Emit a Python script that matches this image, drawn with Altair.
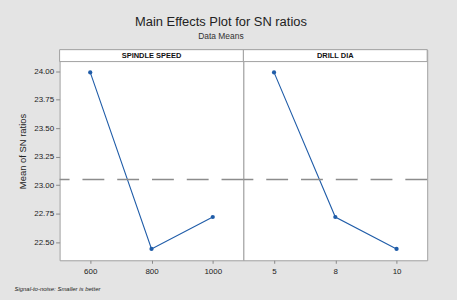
import altair as alt
import pandas as pd

# ---- data ----
factors = ["SPINDLE SPEED", "DRILL DIA"]
spindle_levels = ["600", "800", "1000"]
spindle_sn = [23.99, 22.44, 22.72]
drill_levels = ["5", "8", "10"]
drill_sn = [23.99, 22.72, 22.44]
overall_mean = [23.05]
y_ticks = [22.50, 22.75, 23.00, 23.25, 23.50, 23.75, 24.00]
y_domain = [22.34, 24.085]

title_text = "Main Effects Plot for SN ratios"
subtitle_text = "Data Means"
y_title = "Mean of SN ratios"
footer = "Signal-to-noise: Smaller is better"

BLUE = "#1f5ca8"
BORDER = "#a0a0a0"
FONT = "Liberation Sans"
W, H, HH = 185, 200, 12
TOTAL_H = H + HH

mean_df = pd.DataFrame({"mean": overall_mean})


def panel(name, levels, values, left):
    df = pd.DataFrame({"level": levels, "sn": values})

    if left:
        yaxis = alt.Axis(
            values=y_ticks, format=".2f", title=y_title, grid=False, domain=False,
            tickSize=4, tickColor="#888", labelFontSize=8, labelColor="#222",
            labelFont=FONT, labelPadding=2, titleFont=FONT, titleFontSize=9.5,
            titleFontWeight="normal", titleColor="#222", titleX=-37, titleY=HH + 90,
            titleAlign="center", titleBaseline="middle", titleAngle=270,
        )
        xtitle = footer
    else:
        yaxis = None
        xtitle = None

    xaxis_kwargs = dict(
        labelAngle=0, grid=False, domain=False, tickSize=3, tickColor="#888",
        labelFontSize=8, labelColor="#222", labelFont=FONT, labelPadding=4,
    )
    if xtitle:
        xaxis_kwargs.update(
            title=xtitle, titleFont=FONT, titleFontSize=6, titleFontWeight="normal",
            titleFontStyle="italic", titleColor="#222", titleX=-46, titleY=28,
            titleAlign="left", titleBaseline="middle",
        )
    else:
        xaxis_kwargs.update(title=None)

    yscale = alt.Scale(domain=y_domain, nice=False, zero=False, range=[TOTAL_H, HH])
    x = alt.X("level:O", sort=levels, scale=alt.Scale(type="point", padding=0.5),
              axis=alt.Axis(**xaxis_kwargs))
    y = alt.Y("sn:Q", scale=yscale, axis=yaxis)

    base = alt.Chart(df).encode(x=x, y=y)
    line = base.mark_line(color=BLUE, strokeWidth=1.1)
    pts = base.mark_point(filled=True, color=BLUE, size=18, opacity=1, shape="circle")
    rule = alt.Chart(mean_df).mark_rule(
        color="#8c8c8c", strokeWidth=1.5, strokeDash=[22, 13]
    ).encode(y=alt.Y("mean:Q", scale=yscale, axis=yaxis))

    hdr_df = pd.DataFrame({"label": [name]})
    hdr_box = alt.Chart(hdr_df).mark_rect(
        fill="white", stroke=BORDER, strokeWidth=1
    ).encode(x=alt.value(0), x2=alt.value(W), y=alt.value(0), y2=alt.value(HH))
    hdr_txt = alt.Chart(hdr_df).mark_text(
        font=FONT, fontSize=7.5, fontWeight="bold", color="#111", baseline="middle"
    ).encode(text="label:N", x=alt.value(W / 2), y=alt.value(HH / 2 + 0.5))

    plot = alt.layer(line, pts, rule, hdr_box, hdr_txt).properties(
        width=W, height=TOTAL_H,
        view=alt.ViewBackground(fill="white", stroke=BORDER, strokeWidth=1),
    )
    return plot


chart = alt.hconcat(
    panel(factors[0], spindle_levels, spindle_sn, True),
    panel(factors[1], drill_levels, drill_sn, False),
    spacing=0, bounds="flush",
).properties(
    title=alt.TitleParams(
        text=title_text, subtitle=subtitle_text, anchor="middle", dx=0,
        font=FONT, fontSize=13, fontWeight="normal", color="#222",
        subtitleFont=FONT, subtitleFontSize=8.5, subtitleColor="#333",
        subtitlePadding=3, offset=8,
    ),
    padding={"left": 13, "top": 15, "right": 28, "bottom": 8},
).configure(background="#e4e4e4").configure_concat(spacing=0)

chart.save("out.html", embed_options={"renderer": "svg", "actions": False})
